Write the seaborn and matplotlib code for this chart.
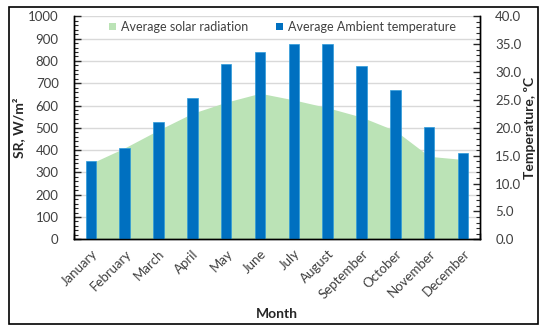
import numpy as np
import matplotlib
matplotlib.use("Agg")
import matplotlib.pyplot as plt
from matplotlib.patches import Patch, Rectangle
from matplotlib.ticker import MultipleLocator, FixedLocator, FormatStrFormatter
import seaborn as sns

# Datos
months = ['January', 'February', 'March', 'April', 'May', 'June', 'July',
          'August', 'September', 'October', 'November', 'December']
solar_radiation = [340, 410, 490, 565, 615, 655, 625, 590, 548, 487, 372, 358]
ambient_temp = [14.0, 16.3, 21.0, 25.3, 31.4, 33.6, 35.1, 35.1, 31.1, 26.8, 20.2, 15.4]

sr_label = 'Average solar radiation'
temp_label = 'Average Ambient temperature'

green = '#BBE3B6'
blue = '#0070C0'
tick_color = '#404040'

sns.set_style('white')
plt.rcParams['font.family'] = ['Lato', 'DejaVu Sans']

fig = plt.figure(figsize=(5.5, 3.33), dpi=100)
ax1 = fig.add_axes([0.1345, 0.2814, 0.7382, 0.6696])
ax2 = ax1.twinx()

# Area: radiacion solar (eje izquierdo)
x = np.arange(len(months))
ax1.fill_between(x, solar_radiation, 0, color=green, linewidth=0, zorder=2)
ax1.set_ylim(0, 1000)
ax1.yaxis.set_major_locator(MultipleLocator(100))
ax1.yaxis.set_minor_locator(MultipleLocator(20))
ax1.grid(axis='y', color='#D9D9D9', linewidth=1.0, zorder=0)
ax1.set_axisbelow(True)

# Barras: temperatura (eje derecho)
sns.barplot(x=months, y=ambient_temp, ax=ax2, color=blue, width=0.31,
            edgecolor='#2E9BDA', linewidth=0.5, saturation=1)
ax2.set_ylim(0, 40)
ax2.yaxis.set_major_locator(MultipleLocator(5))
ax2.yaxis.set_minor_locator(MultipleLocator(1))
ax2.yaxis.set_major_formatter(FormatStrFormatter('%.1f'))
ax2.grid(False)

ax1.set_xlim(-0.5, len(months) - 0.5)
ax1.xaxis.set_major_locator(FixedLocator(x))
ax1.xaxis.set_minor_locator(FixedLocator(np.arange(-0.5, len(months), 1.0)))
ax1.set_xticklabels(months, rotation=45, ha='right', rotation_mode='anchor')

for ax in (ax1, ax2):
    ax.spines['top'].set_visible(False)
    for s in ('left', 'right', 'bottom'):
        ax.spines[s].set_color('black')
        ax.spines[s].set_linewidth(1.0)

ax1.tick_params(axis='y', which='major', direction='in', length=5, width=1,
                labelsize=9.5, labelcolor=tick_color, pad=11, left=True)
ax1.tick_params(axis='y', which='minor', direction='in', length=3, width=0.8, left=True)
ax1.tick_params(axis='x', which='both', direction='in', length=4, width=1,
                labelsize=9.5, labelcolor=tick_color, pad=6, bottom=True)
ax2.tick_params(axis='y', which='major', direction='in', length=5, width=1,
                labelsize=9.5, labelcolor=tick_color, pad=11, right=True)
ax2.tick_params(axis='y', which='minor', direction='in', length=3, width=0.8, right=True)

ax1.set_xlabel('Month', fontsize=10, fontweight='bold', labelpad=5)
ax1.set_ylabel('SR, W/m²', fontsize=10, fontweight='bold', labelpad=2)
ax2.set_ylabel('Temperature, ºC', fontsize=10, fontweight='bold', labelpad=2)

handles = [Patch(facecolor=green, edgecolor='none'),
           Patch(facecolor=blue, edgecolor='none')]
ax2.legend(handles, [sr_label, temp_label], loc='center', ncol=2,
           bbox_to_anchor=(0.514, 0.952), frameon=False, fontsize=9,
           handlelength=0.55, handleheight=0.55, handletextpad=0.4,
           columnspacing=2.2, labelcolor=tick_color)

# Marco exterior
fig.add_artist(Rectangle((0.0164, 0.027), 0.962, 0.952, transform=fig.transFigure,
                         fill=False, edgecolor='black', linewidth=1.2))

fig.savefig('out.png', dpi=100)
